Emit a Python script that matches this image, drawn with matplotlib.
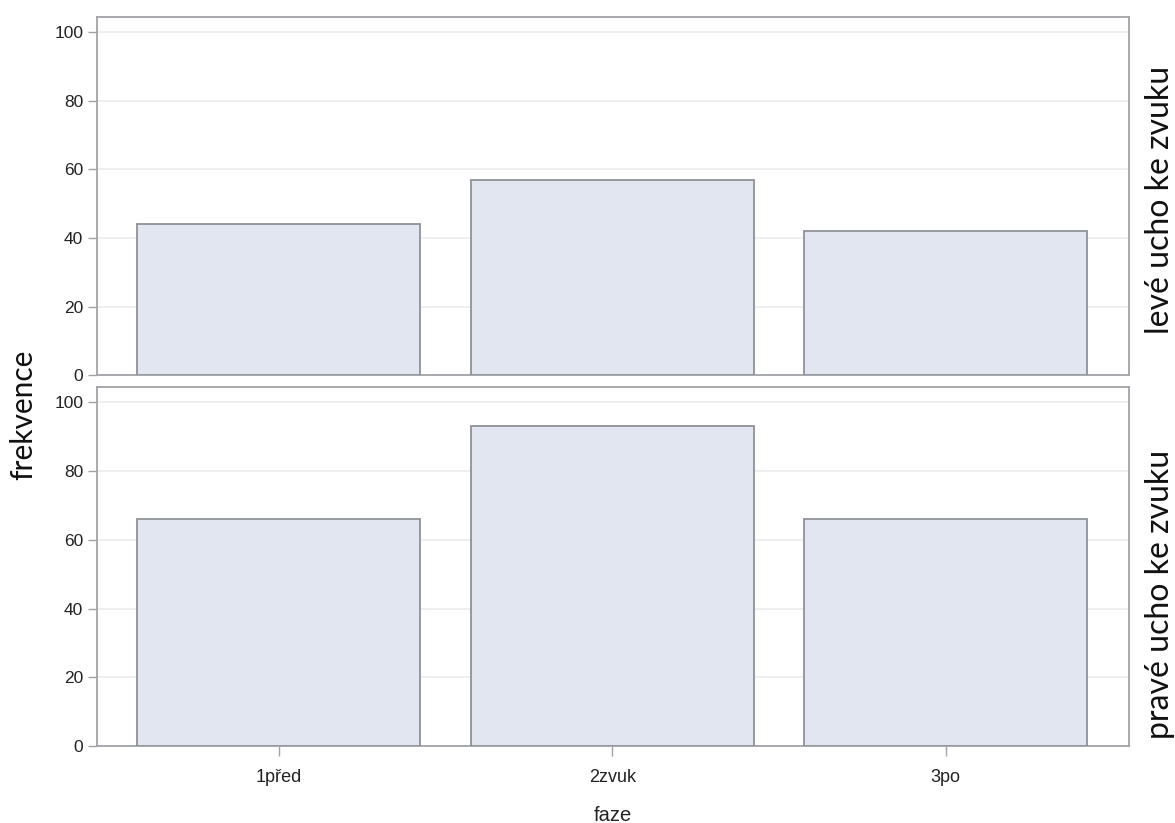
import matplotlib
matplotlib.use("Agg")
import matplotlib.pyplot as plt

categories = ["1před", "2zvuk", "3po"]
levé_values = [44, 57, 42]
pravé_values = [66, 93, 66]
panel_labels = ["levé ucho ke zvuku", "pravé ucho ke zvuku"]
y_ticks = [0, 20, 40, 60, 80, 100]

fig = plt.figure(figsize=(11.75, 8.23), dpi=100)
ax_top = fig.add_axes([0.0826, 0.5443, 0.8783, 0.4350])
ax_bot = fig.add_axes([0.0826, 0.0936, 0.8783, 0.4362])

spine_col = "#a0a3a8"
bar_face = "#e1e6f0"
bar_edge = "#8e9297"
grid_col = "#ebebeb"

label_y = [0.757, 0.2775]

for ax, vals, lab, ly in zip([ax_top, ax_bot], [levé_values, pravé_values], panel_labels, label_y):
    x = range(len(categories))
    ax.bar(x, vals, width=0.85, color=bar_face, edgecolor=bar_edge, linewidth=1.3, zorder=3)
    ax.set_xlim(-0.545, 2.55)
    ax.set_ylim(0, 104.5)
    ax.set_yticks(y_ticks)
    ax.set_yticklabels([str(t) for t in y_ticks], fontsize=12.5, color="#222222", family="Liberation Sans")
    ax.yaxis.grid(True, color=grid_col, linewidth=1.2, zorder=0)
    ax.set_axisbelow(True)
    for s in ax.spines.values():
        s.set_color(spine_col)
        s.set_linewidth(1.3)
    ax.tick_params(axis="y", length=6.5, width=1, color=spine_col, pad=3.5)
    fig.text(0.9872, ly, lab, rotation=90, ha="center", va="center",
             fontsize=23, family="Lato", color="#111111")

ax_top.set_xticks([])
ax_bot.set_xticks(list(range(len(categories))))
ax_bot.set_xticklabels(categories, fontsize=13, color="#222222", family="Liberation Sans")
ax_bot.tick_params(axis="x", length=7, width=1, color=spine_col, pad=9.5)
ax_bot.set_xlabel("faze", fontsize=14.5, color="#222222", family="Liberation Sans")
ax_bot.xaxis.set_label_coords(0.5, -0.166)

fig.text(0.02, 0.4957, "frekvence", rotation=90, ha="center", va="center",
         fontsize=21.5, family="Lato", color="#111111")

fig.savefig("out.png", dpi=100)
